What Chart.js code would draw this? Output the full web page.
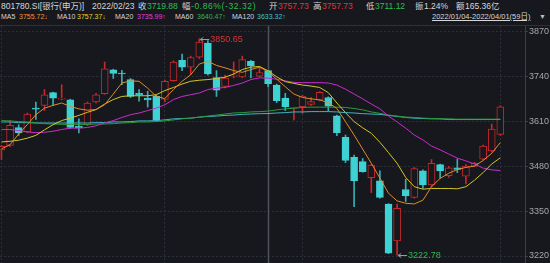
<!DOCTYPE html>
<html>
<head>
<meta charset="utf-8">
<script src="https://cdn.jsdelivr.net/npm/chart.js@4.4.1/dist/chart.umd.min.js"></script>
<style>
  body { margin: 0; background: #16181d; width: 550px; height: 263px; overflow: hidden;
         font-family: "Liberation Sans", "Noto Sans CJK SC", sans-serif; color: #d6d6d6; }
  #head { position: absolute; left: 0; top: 0; width: 550px; height: 25px; border-bottom: 1px solid #2e3138; }
  .t { position: absolute; white-space: nowrap; line-height: 12px; }
  .r1 { top: 0; font-size: 8.5px; }
  .r2 { top: 11px; font-size: 7px; }
  .red { color: #e0353b; }
  .grn { color: #2fbf52; }
  #wrap { position: absolute; left: 0; top: 26px; width: 550px; height: 237px; }
</style>
</head>
<body>
<div id="head">
  <span class="t r1" style="left:1px">801780.SI[银行(申万)]</span>
  <span class="t r1" style="left:92px">2022/02/23</span>
  <span class="t r1" style="left:138px">收</span><span class="t r1 grn" style="left:147px">3719.88</span>
  <span class="t r1" style="left:182px">幅</span><span class="t r1 grn" style="left:191px;letter-spacing:0.6px">-0.86%(-32.32)</span>
  <span class="t r1" style="left:269px">开</span><span class="t r1 red" style="left:278px">3757.73</span>
  <span class="t r1" style="left:313px">高</span><span class="t r1 red" style="left:322px">3757.73</span>
  <span class="t r1" style="left:366px">低</span><span class="t r1 grn" style="left:375px">3711.12</span>
  <span class="t r1" style="left:415px">振</span><span class="t r1" style="left:424px">1.24%</span>
  <span class="t r1" style="left:456px">额</span><span class="t r1" style="left:465px">165.36亿</span>

  <span class="t r2" style="left:1px">MA5</span><span class="t r2" style="left:19px;color:#ec9a32">3755.72↓</span>
  <span class="t r2" style="left:57px">MA10</span><span class="t r2" style="left:77px;color:#e0d62a">3757.37↓</span>
  <span class="t r2" style="left:115px">MA20</span><span class="t r2" style="left:137px;color:#e040e0">3735.99↑</span>
  <span class="t r2" style="left:175px">MA60</span><span class="t r2" style="left:197px;color:#35b845">3640.47↑</span>
  <span class="t r2" style="left:232px">MA120</span><span class="t r2" style="left:257px;color:#45c2cc">3633.32↑</span>
  <span class="t r2" style="left:432px;font-size:7.5px;text-decoration:underline">2022/01/04-2022/04/01(59日)</span>
  <span class="t r2" style="left:539px;color:#bdbdbd">▼</span>
</div>
<div id="wrap"><canvas id="kline"></canvas></div>
<script>
const dates = [
  "01/04","01/05","01/06","01/07","01/10","01/11","01/12","01/13","01/14","01/17",
  "01/18","01/19","01/20","01/21","01/24","01/25","01/26","01/27","01/28","02/07",
  "02/08","02/09","02/10","02/11","02/14","02/15","02/16","02/17","02/18","02/21",
  "02/22","02/23","02/24","02/25","02/28","03/01","03/02","03/03","03/04","03/07",
  "03/08","03/09","03/10","03/11","03/14","03/15","03/16","03/17","03/18","03/21",
  "03/22","03/23","03/24","03/25","03/28","03/29","03/30","03/31","04/01"
];
const open = [
  3528, 3541, 3593, 3580, 3649, 3657, 3694, 3675, 3673, 3597,
  3601, 3667, 3691, 3760, 3750, 3732, 3692, 3678, 3683, 3674,
  3729, 3788, 3768, 3797, 3838, 3738, 3712, 3742, 3740, 3785,
  3742, 3757.73, 3716, 3678, 3648, 3653, 3660, 3673, 3680, 3627,
  3564, 3506, 3494, 3447, 3438, 3371, 3264, 3413, 3390, 3467,
  3426, 3485, 3453, 3476, 3452, 3481, 3501, 3525, 3573
];
const high = [
  3541, 3613, 3601, 3635, 3667, 3703, 3696, 3717, 3675, 3618,
  3667, 3692, 3783, 3762, 3759, 3735, 3703, 3698, 3688, 3730,
  3786, 3806, 3800, 3850.65, 3845, 3758, 3745, 3783, 3800, 3788,
  3769, 3757.73, 3719, 3692, 3651, 3686, 3680, 3697, 3682, 3629,
  3571, 3513, 3503, 3486, 3467, 3372, 3371, 3443, 3477, 3470,
  3500, 3487, 3480, 3501, 3485, 3492, 3542, 3603, 3656
];
const low = [
  3500, 3538, 3570, 3578, 3616, 3642, 3657, 3673, 3590, 3577,
  3598, 3664, 3689, 3735, 3717, 3680, 3669, 3652, 3612, 3668,
  3727, 3758, 3746, 3793, 3745, 3683, 3708, 3737, 3737, 3737,
  3740, 3711.12, 3665, 3642, 3615, 3634, 3657, 3670, 3641, 3569,
  3491, 3363, 3463, 3404, 3388, 3227, 3222.78, 3378, 3388, 3416,
  3422, 3446, 3448, 3462, 3429, 3479, 3499, 3522, 3570
];
const close = [
  3538, 3599, 3577, 3632, 3646, 3688, 3678, 3678, 3593, 3592,
  3664, 3688, 3763, 3750, 3748, 3683, 3687, 3673, 3614, 3727,
  3783, 3768, 3796, 3841, 3748, 3701, 3736, 3745, 3790, 3771.5,
  3752.2, 3719.88, 3671, 3653, 3650, 3684, 3668, 3695, 3655, 3578,
  3497, 3438, 3465, 3484, 3390, 3228, 3358, 3394, 3474, 3426,
  3489, 3467, 3476, 3471, 3481, 3489, 3539, 3588, 3653
];
const ma5 = [
  3531, 3543, 3574, 3601, 3630, 3649, 3657, 3664, 3654, 3647,
  3643, 3645, 3659, 3690, 3722, 3728, 3727, 3707, 3683, 3677,
  3703, 3727, 3746, 3777, 3785, 3773, 3766, 3758, 3753, 3761,
  3768, 3755.72, 3733, 3711, 3690, 3680, 3676, 3673, 3665, 3648,
  3610, 3571, 3530, 3489, 3446, 3402, 3380, 3373, 3371, 3382,
  3421, 3445, 3460, 3471, 3477, 3481, 3497, 3518, 3549
];
const ma10 = [
  3551, 3553, 3556, 3562, 3570, 3586, 3601, 3613, 3620, 3628,
  3637, 3645, 3661, 3674, 3683, 3685, 3685, 3685, 3688, 3700,
  3709, 3719, 3727, 3730, 3732, 3735, 3739, 3748, 3761, 3768,
  3770, 3757.37, 3740, 3726, 3721, 3716, 3713, 3709, 3694, 3664,
  3636, 3610, 3592, 3576, 3550, 3520, 3489, 3448, 3421, 3414,
  3416, 3416, 3416, 3415, 3421, 3440, 3462, 3487, 3505
];
const ma20 = [
  3587, 3587, 3584, 3580, 3578, 3579, 3582, 3587, 3591, 3591,
  3593, 3598, 3606, 3613, 3622, 3630, 3635, 3642, 3649, 3659,
  3674, 3683, 3688, 3693, 3703, 3707, 3709, 3715, 3722, 3732,
  3737, 3735.99, 3733, 3728, 3724, 3723, 3723, 3723, 3722, 3716,
  3704, 3690, 3676, 3661, 3647, 3626, 3609, 3591, 3571, 3557,
  3539, 3528, 3516, 3504, 3496, 3487, 3475, 3470, 3468
];
const ma60 = [
  3613, 3612, 3610, 3609, 3606, 3604, 3603, 3602, 3602, 3602,
  3602, 3603, 3603, 3604, 3606, 3607, 3609, 3609, 3610, 3612,
  3615, 3618, 3620, 3623, 3626, 3629, 3632, 3635, 3636, 3638,
  3639, 3640.47, 3644, 3647, 3649, 3651, 3652, 3652, 3652, 3652,
  3651, 3648, 3644, 3638, 3634, 3629, 3626, 3623, 3622, 3620,
  3619, 3618, 3618, 3617, 3617, 3617, 3617, 3617, 3617
];
const ma120 = [
  3609, 3609, 3607, 3607, 3606, 3606, 3606, 3606, 3606, 3606,
  3606, 3607, 3607, 3609, 3609, 3610, 3612, 3612, 3613, 3615,
  3618, 3619, 3620, 3623, 3625, 3626, 3628, 3629, 3631, 3632,
  3633, 3633.32, 3635, 3636, 3638, 3638, 3639, 3639, 3639, 3638,
  3636, 3635, 3633, 3632, 3631, 3628, 3625, 3622, 3620, 3619,
  3618, 3618, 3616, 3616, 3616, 3616, 3616, 3616, 3616
];
const yTicks = [3220, 3350, 3480, 3610, 3740, 3870];
const monthStarts = [0, 19, 35, 58];
const selected = 31; // 2022/02/23

const BG = "#16181d";
const RED = "#c8282d";
const CYAN = "#3ed2d4";
const CYAN_WICK = "#38aeb2";
const up = close.map((c, i) => c >= open[i]);

const pts = arr => arr.map((v, i) => ({ x: i, y: v }));
const maLine = (label, arr, color) => ({
  type: "line", label, data: pts(arr), borderColor: color, borderWidth: 1,
  pointRadius: 0, tension: 0, order: 0
});

// high / low markers and the crosshair
const marks = {
  id: "marks",
  beforeDatasetsDraw(chart) {
    const { ctx, chartArea: a, scales: { x } } = chart;
    const px = Math.round(x.getPixelForValue(selected)) + 0.5;
    ctx.save();
    ctx.strokeStyle = "#4e5259";
    ctx.lineWidth = 1.5;
    ctx.beginPath();
    ctx.moveTo(px, a.top);
    ctx.lineTo(px, a.bottom);
    ctx.stroke();
    ctx.restore();
  },
  afterDatasetsDraw(chart) {
    const { ctx, scales: { x, y } } = chart;
    const hi = high.indexOf(Math.max(...high));
    const lo = low.indexOf(Math.min(...low));
    const tag = (i, v, color) => {
      const px = x.getPixelForValue(i) + 1, py = Math.round(y.getPixelForValue(v)) + 0.5;
      ctx.save();
      ctx.strokeStyle = "#9a9a9a";
      ctx.lineWidth = 1;
      ctx.beginPath();
      ctx.moveTo(px, py); ctx.lineTo(px + 9, py);
      ctx.moveTo(px + 3, py - 2); ctx.lineTo(px, py); ctx.lineTo(px + 3, py + 2);
      ctx.stroke();
      ctx.fillStyle = color;
      ctx.font = "9px 'Liberation Sans'";
      ctx.textBaseline = "middle";
      ctx.fillText(v.toFixed(2), px + 10, py);
      ctx.restore();
    };
    tag(hi, high[hi], "#d8343a");
    tag(lo, low[lo], "#2fb84e");
  }
};

new Chart(document.getElementById("kline"), {
  type: "bar",
  data: {
    labels: dates,
    datasets: [
      maLine("MA5", ma5, "#e08c2c"),
      maLine("MA10", ma10, "#d2c824"),
      maLine("MA20", ma20, "#cc2ccc"),
      maLine("MA60", ma60, "#2c9c3c"),
      maLine("MA120", ma120, "#44b4c2"),
      {
        label: "body",
        data: dates.map((d, i) => ({ x: i, y: [open[i], close[i]] })),
        backgroundColor: up.map(u => u ? BG : CYAN),
        borderColor: up.map(u => u ? RED : CYAN),
        borderWidth: 1,
        borderSkipped: false,
        barThickness: 7,
        minBarLength: 1,
        grouped: false,
        order: 1
      },
      {
        label: "wick",
        data: dates.map((d, i) => ({ x: i, y: [low[i], high[i]] })),
        backgroundColor: up.map(u => u ? RED : CYAN_WICK),
        borderWidth: 0,
        barThickness: 1,
        grouped: false,
        order: 2
      }
    ]
  },
  options: {
    responsive: true,
    maintainAspectRatio: false,
    animation: false,
    devicePixelRatio: 1,
    layout: { padding: 0 },
    plugins: { legend: { display: false }, tooltip: { enabled: false } },
    scales: {
      x: {
        type: "linear",
        offset: false,
        min: -0.17,
        max: 60.87,
        afterBuildTicks: s => { s.ticks = monthStarts.map(v => ({ value: v })); },
        ticks: { display: false },
        grid: { color: "#2b2f37", drawTicks: false, offset: false },
        border: { display: false, dash: [2, 2] }
      },
      y: {
        position: "right",
        min: 3199.7,
        max: 3887.4,
        afterBuildTicks: s => { s.ticks = yTicks.map(v => ({ value: v })); },
        afterFit: s => { s.width = 25; s.paddingTop = 0; s.paddingBottom = 0; },
        ticks: { color: "#a4a6ab", font: { size: 9, family: "Liberation Sans" }, padding: 1,
                 callback: v => String(v) },
        grid: { color: "#2b2f37", tickLength: 3, tickColor: "#3a3e46" },
        border: { display: true, color: "#3a3e46", dash: [2, 2] }
      }
    }
  },
  plugins: [marks]
});
</script>
</body>
</html>
